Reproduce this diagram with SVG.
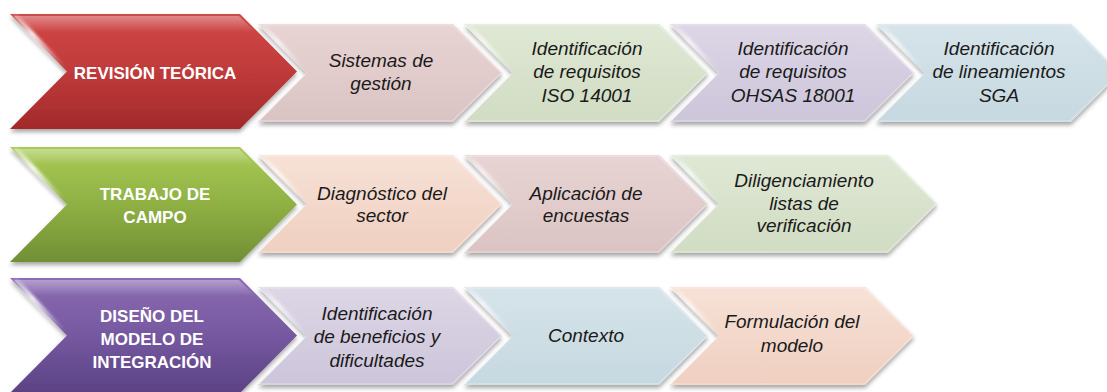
<svg xmlns="http://www.w3.org/2000/svg" width="1107" height="392" viewBox="0 0 1107 392">
<defs>
  <filter id="sh" x="-10%" y="-10%" width="120%" height="130%">
    <feDropShadow dx="0" dy="3" stdDeviation="2.2" flood-color="#000" flood-opacity="0.35"/>
  </filter>
  <filter id="blur" x="-20%" y="-20%" width="140%" height="140%">
    <feGaussianBlur stdDeviation="1.4"/>
  </filter>
  <linearGradient id="gRed" x1="0" y1="0" x2="0" y2="1">
    <stop offset="0" stop-color="#d24848"/>
    <stop offset="0.5" stop-color="#c03a3a"/>
    <stop offset="1" stop-color="#a22a2b"/>
  </linearGradient>
  <linearGradient id="gGreen" x1="0" y1="0" x2="0" y2="1">
    <stop offset="0" stop-color="#a9cb55"/>
    <stop offset="0.5" stop-color="#8fb043"/>
    <stop offset="1" stop-color="#718f35"/>
  </linearGradient>
  <linearGradient id="gPurple" x1="0" y1="0" x2="0" y2="1">
    <stop offset="0" stop-color="#8c6cb3"/>
    <stop offset="0.5" stop-color="#7558a0"/>
    <stop offset="1" stop-color="#5b4284"/>
  </linearGradient>
  <linearGradient id="gPink" x1="0" y1="0" x2="0" y2="1">
    <stop offset="0" stop-color="#e8d4d4"/>
    <stop offset="1" stop-color="#dbc3c3"/>
  </linearGradient>
  <linearGradient id="gLGreen" x1="0" y1="0" x2="0" y2="1">
    <stop offset="0" stop-color="#dfe8d4"/>
    <stop offset="1" stop-color="#d1dcc3"/>
  </linearGradient>
  <linearGradient id="gLPurple" x1="0" y1="0" x2="0" y2="1">
    <stop offset="0" stop-color="#dcd6e6"/>
    <stop offset="1" stop-color="#cdc5da"/>
  </linearGradient>
  <linearGradient id="gLBlue" x1="0" y1="0" x2="0" y2="1">
    <stop offset="0" stop-color="#d6e4ea"/>
    <stop offset="1" stop-color="#c6d8e0"/>
  </linearGradient>
  <linearGradient id="gPeach" x1="0" y1="0" x2="0" y2="1">
    <stop offset="0" stop-color="#f7e1d6"/>
    <stop offset="1" stop-color="#efcfc0"/>
  </linearGradient>
  <linearGradient id="gHi" x1="0" y1="0" x2="1" y2="1">
    <stop offset="0" stop-color="#fff" stop-opacity="0.25"/>
    <stop offset="0.35" stop-color="#fff" stop-opacity="0.95"/>
    <stop offset="1" stop-color="#fff" stop-opacity="0.05"/>
  </linearGradient>
  <linearGradient id="gTop" x1="0" y1="0" x2="0" y2="1">
    <stop offset="0" stop-color="#fff" stop-opacity="0.35"/>
    <stop offset="1" stop-color="#fff" stop-opacity="0"/>
  </linearGradient>
</defs>
<style>
  .shape { filter: url(#sh); }
  .hi { fill: none; stroke: url(#gHi); stroke-width: 5; stroke-linecap: round; filter: url(#blur); }
  .hi2 { fill: none; stroke: url(#gHi); stroke-width: 4; stroke-linecap: round; filter: url(#blur); opacity: 0.8; }
  .top { fill: url(#gTop); }
  .edge { fill: none; stroke: #ffffff; stroke-opacity: 0.45; stroke-width: 1; }
  .main { font-family: "Liberation Sans", Arial, sans-serif; font-weight: bold; font-size: 17px; fill: #ffffff; text-anchor: middle; }
  .sub { font-family: "Liberation Sans", Arial, sans-serif; font-style: italic; font-size: 19px; fill: #1a1a1a; text-anchor: middle; }
</style>

<!-- Row 1 -->
<g id="revision-teorica">
  <polygon class="shape" fill="url(#gRed)" points="10,14 240,14 297,71.5 240,129 10,129 67,71.5"/>
  <polygon class="top" points="14,16 239,16 255,32 30,32"/>
  <line class="hi" x1="16" y1="17" x2="62" y2="66"/>
  <text class="main" x="155" y="79">REVISIÓN TEÓRICA</text>
</g>
<g id="sistemas-gestion">
  <polygon class="shape" fill="url(#gPink)" points="258,24 453,24 502,73 453,122 258,122 307,73"/>
  <polygon class="edge" points="259,25 452,25 501,73 452,121 259,121 306,73"/>
  <line class="hi2" x1="264" y1="27" x2="302" y2="67"/>
  <text class="sub" x="381" y="67">Sistemas de</text>
  <text class="sub" x="381" y="90">gestión</text>
</g>
<g id="requisitos-iso">
  <polygon class="shape" fill="url(#gLGreen)" points="464,24 659,24 708,73 659,122 464,122 513,73"/>
  <polygon class="edge" points="465,25 658,25 707,73 658,121 465,121 512,73"/>
  <line class="hi2" x1="470" y1="27" x2="508" y2="67"/>
  <text class="sub" x="587" y="55">Identificación</text>
  <text class="sub" x="587" y="78">de requisitos</text>
  <text class="sub" x="587" y="102">ISO 14001</text>
</g>
<g id="requisitos-ohsas">
  <polygon class="shape" fill="url(#gLPurple)" points="670,24 865,24 914,73 865,122 670,122 719,73"/>
  <polygon class="edge" points="671,25 864,25 913,73 864,121 671,121 718,73"/>
  <line class="hi2" x1="676" y1="27" x2="714" y2="67"/>
  <text class="sub" x="793" y="55">Identificación</text>
  <text class="sub" x="793" y="78">de requisitos</text>
  <text class="sub" x="793" y="102">OHSAS 18001</text>
</g>
<g id="lineamientos-sga">
  <polygon class="shape" fill="url(#gLBlue)" points="876,24 1071,24 1120,73 1071,122 876,122 925,73"/>
  <polygon class="edge" points="877,25 1070,25 1119,73 1070,121 877,121 924,73"/>
  <line class="hi2" x1="882" y1="27" x2="920" y2="67"/>
  <text class="sub" x="999" y="55">Identificación</text>
  <text class="sub" x="999" y="78">de lineamientos</text>
  <text class="sub" x="999" y="102">SGA</text>
</g>

<!-- Row 2 -->
<g id="trabajo-campo">
  <polygon class="shape" fill="url(#gGreen)" points="10,147 240,147 297,204.5 240,262 10,262 67,204.5"/>
  <polygon class="top" points="14,149 239,149 255,165 30,165"/>
  <line class="hi" x1="16" y1="150" x2="62" y2="199"/>
  <text class="main" x="155" y="200">TRABAJO DE</text>
  <text class="main" x="155" y="223">CAMPO</text>
</g>
<g id="diagnostico-sector">
  <polygon class="shape" fill="url(#gPeach)" points="258,155 453,155 502,204 453,253 258,253 307,204"/>
  <polygon class="edge" points="259,156 452,156 501,204 452,252 259,252 306,204"/>
  <line class="hi2" x1="264" y1="158" x2="302" y2="198"/>
  <text class="sub" x="382" y="200">Diagnóstico del</text>
  <text class="sub" x="382" y="222">sector</text>
</g>
<g id="aplicacion-encuestas">
  <polygon class="shape" fill="url(#gPink)" points="464,155 659,155 708,204 659,253 464,253 513,204"/>
  <polygon class="edge" points="465,156 658,156 707,204 658,252 465,252 512,204"/>
  <line class="hi2" x1="470" y1="158" x2="508" y2="198"/>
  <text class="sub" x="586" y="200">Aplicación de</text>
  <text class="sub" x="586" y="222">encuestas</text>
</g>
<g id="listas-verificacion">
  <polygon class="shape" fill="url(#gLGreen)" points="670,155 888,155 937,204 888,253 670,253 719,204"/>
  <polygon class="edge" points="671,156 887,156 936,204 887,252 671,252 718,204"/>
  <line class="hi2" x1="676" y1="158" x2="714" y2="198"/>
  <text class="sub" x="804" y="187">Diligenciamiento</text>
  <text class="sub" x="804" y="210">listas de</text>
  <text class="sub" x="804" y="232">verificación</text>
</g>

<!-- Row 3 -->
<g id="diseno-modelo">
  <polygon class="shape" fill="url(#gPurple)" points="10,278 240,278 297,335.5 240,393 10,393 67,335.5"/>
  <polygon class="top" points="14,280 239,280 255,296 30,296"/>
  <line class="hi" x1="16" y1="281" x2="62" y2="330"/>
  <text class="main" x="152" y="322">DISEÑO DEL</text>
  <text class="main" x="152" y="345">MODELO DE</text>
  <text class="main" x="152" y="368">INTEGRACIÓN</text>
</g>
<g id="beneficios-dificultades">
  <polygon class="shape" fill="url(#gLPurple)" points="258,287 453,287 502,336 453,385 258,385 307,336"/>
  <polygon class="edge" points="259,288 452,288 501,336 452,384 259,384 306,336"/>
  <line class="hi2" x1="264" y1="290" x2="302" y2="330"/>
  <text class="sub" x="377" y="320">Identificación</text>
  <text class="sub" x="377" y="343">de beneficios y</text>
  <text class="sub" x="377" y="367">dificultades</text>
</g>
<g id="contexto">
  <polygon class="shape" fill="url(#gLBlue)" points="464,287 659,287 708,336 659,385 464,385 513,336"/>
  <polygon class="edge" points="465,288 658,288 707,336 658,384 465,384 512,336"/>
  <line class="hi2" x1="470" y1="290" x2="508" y2="330"/>
  <text class="sub" x="586" y="342">Contexto</text>
</g>
<g id="formulacion-modelo">
  <polygon class="shape" fill="url(#gPeach)" points="670,287 865,287 914,336 865,385 670,385 719,336"/>
  <polygon class="edge" points="671,288 864,288 913,336 864,384 671,384 718,336"/>
  <line class="hi2" x1="676" y1="290" x2="714" y2="330"/>
  <text class="sub" x="792" y="328">Formulación del</text>
  <text class="sub" x="792" y="352">modelo</text>
</g>
</svg>
